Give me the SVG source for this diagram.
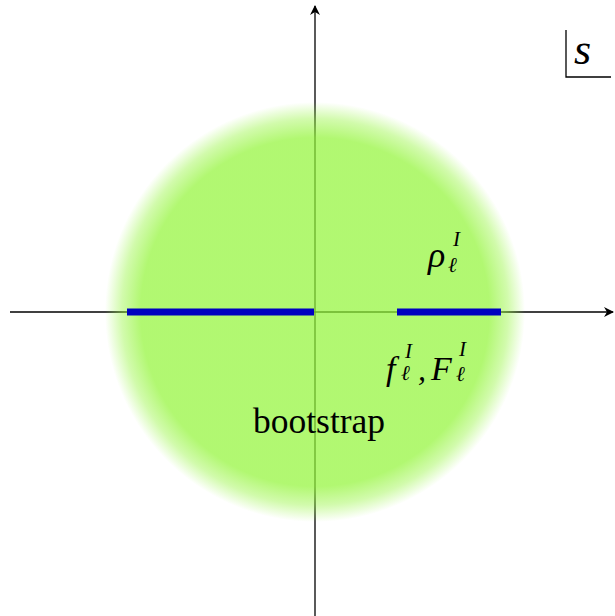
<svg xmlns="http://www.w3.org/2000/svg" width="615" height="616" viewBox="0 0 615 616">
<style>
.ax{stroke:#000;stroke-width:1.3;fill:none}
.bar{stroke:#0000c0;stroke-width:7}
.m{font-family:"Liberation Serif","DejaVu Serif",serif;font-style:italic;fill:#000}
.t{font-family:"Liberation Serif","DejaVu Serif",serif;fill:#000}
</style>
<defs>
<marker id="ar" viewBox="0 0 10 10" refX="9" refY="5" markerWidth="10" markerHeight="10" markerUnits="userSpaceOnUse" orient="auto">
<path d="M0,0 L10,5 L0,10 L3,5 Z" fill="#000"/>
</marker>
<radialGradient id="g" cx="315" cy="312" r="210" gradientUnits="userSpaceOnUse">
<stop offset="0" stop-color="#93f53a" stop-opacity="0.72"/>
<stop offset="0.83" stop-color="#93f53a" stop-opacity="0.72"/>
<stop offset="0.92" stop-color="#93f53a" stop-opacity="0.42"/>
<stop offset="1" stop-color="#93f53a" stop-opacity="0"/>
</radialGradient>
</defs>
<rect width="615" height="616" fill="#fff"/>
<g id="connectors">
<line class="ax" x1="10" y1="312" x2="613" y2="312" marker-end="url(#ar)"/>
<line class="ax" x1="315" y1="616" x2="315" y2="6" marker-end="url(#ar)"/>
</g>
<g id="bootstrap-region">
<circle cx="315" cy="312" r="210" fill="url(#g)"/>
<text class="t" x="253" y="433" font-size="35.5">bootstrap</text>
</g>
<g id="cuts">
<line class="bar" x1="127" y1="312" x2="314" y2="312"/>
<line class="bar" x1="397" y1="312" x2="501" y2="312"/>
</g>
<g id="rho-label">
<text class="m" x="428" y="267" font-size="36">ρ</text>
<text class="m" x="453" y="246" font-size="21">I</text>
<text class="m" x="448" y="272" font-size="21">ℓ</text>
</g>
<g id="f-label">
<text class="m" x="386" y="380" font-size="34">f</text>
<text class="m" x="405" y="358" font-size="21">I</text>
<text class="m" x="401" y="380" font-size="21">ℓ</text>
<text class="m" x="418" y="380" font-size="32">,</text>
<text class="m" x="431" y="380" font-size="34">F</text>
<text class="m" x="459" y="356" font-size="21">I</text>
<text class="m" x="456" y="381" font-size="21">ℓ</text>
</g>
<g id="s-box">
<path class="ax" d="M566,30 V77 H611" stroke-width="2"/>
<text class="m" x="574" y="64" font-size="44">s</text>
</g>
</svg>
